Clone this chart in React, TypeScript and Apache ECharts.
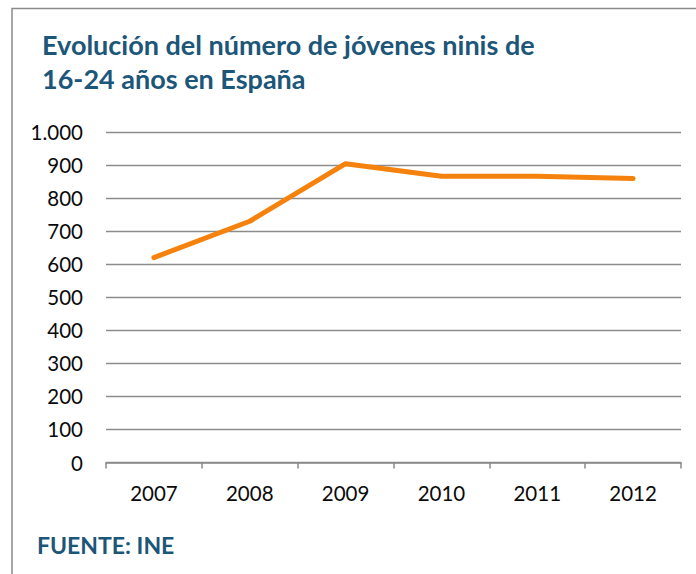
import React, { useEffect, useRef } from "react";
import * as echarts from "echarts";

const years = ["2007", "2008", "2009", "2010", "2011", "2012"];
const ninis = [620, 730, 904, 866, 866, 859];
const titleText = "Evolución del número de jóvenes ninis de\n16-24 años en España";
const sourceText = "FUENTE: INE";

const FONT = "Lato";
const TEAL = "#1C5679";

export default function App() {
  const ref = useRef<HTMLDivElement>(null);
  useEffect(() => {
    if (!ref.current) return;
    const chart = echarts.init(ref.current, null, { renderer: "svg" });
    chart.setOption({
      animation: false,
      backgroundColor: "#ffffff",
      title: {
        text: titleText,
        left: 37,
        top: 22,
        textStyle: {
          fontFamily: FONT,
          fontWeight: "bold",
          fontSize: 27,
          lineHeight: 34,
          color: TEAL,
        },
      },
      graphic: [
        {
          type: "polyline",
          shape: { points: [[12, 574], [12, 8.5], [696, 8.5]] },
          style: { stroke: "#8a8a8a", lineWidth: 1.5, fill: null },
          silent: true,
        },
        {
          type: "text",
          left: 37,
          top: 533,
          style: {
            text: sourceText,
            fontFamily: FONT,
            fontWeight: "bold",
            fontSize: 23,
            fill: TEAL,
          },
        },
      ],
      grid: { left: 106, right: 15, top: 132, bottom: 111.5, containLabel: false },
      xAxis: {
        type: "category",
        data: years,
        boundaryGap: true,
        axisLine: { show: true, lineStyle: { color: "#8a8a8a", width: 1.5 } },
        axisTick: { show: true, alignWithLabel: false, length: 6, lineStyle: { color: "#8a8a8a", width: 1.5 } },
        axisLabel: {
          fontFamily: FONT,
          fontSize: 20.5,
          color: "#0a0a0a",
          margin: 20,
        },
        splitLine: { show: false },
      },
      yAxis: {
        type: "value",
        min: 0,
        max: 1000,
        interval: 100,
        axisLine: { show: false },
        axisTick: { show: false },
        axisLabel: {
          fontFamily: FONT,
          fontSize: 20.5,
          color: "#0a0a0a",
          margin: 23,
          formatter: (v: number) => String(v).replace(/\B(?=(\d{3})+(?!\d))/g, "."),
        },
        splitLine: { show: true, lineStyle: { color: "#8c8c8c", width: 1.3 } },
      },
      series: [
        {
          type: "line",
          data: ninis,
          showSymbol: false,
          symbol: "none",
          lineStyle: { color: "#F5820D", width: 5, cap: "round", join: "round" },
          itemStyle: { color: "#F5820D" },
        },
      ],
    });
    return () => chart.dispose();
  }, []);
  return (
    <div
      ref={ref}
      style={{ position: "absolute", left: 0, top: 0, width: 696, height: 574 }}
    />
  );
}
